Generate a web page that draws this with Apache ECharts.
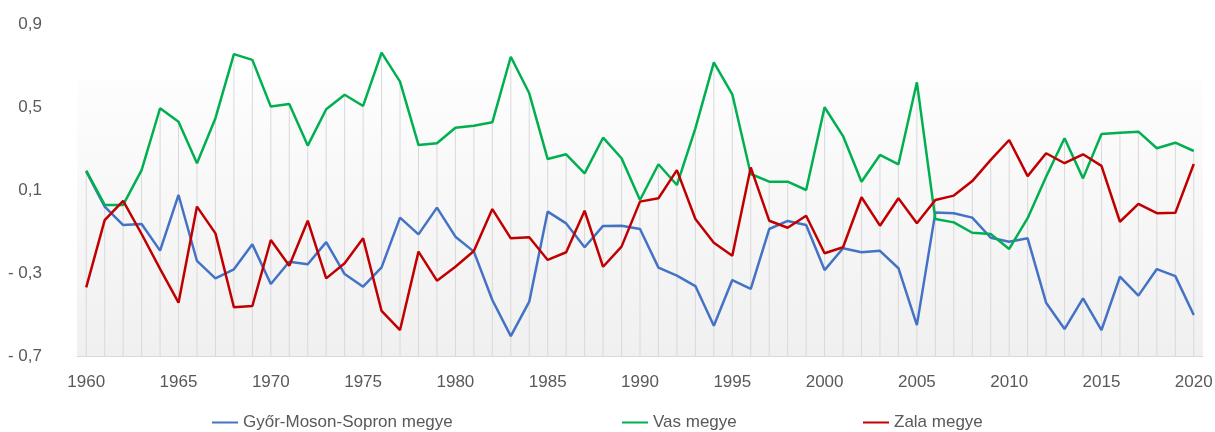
<!DOCTYPE html>
<html>
<head>
<meta charset="utf-8">
<script src="https://cdn.jsdelivr.net/npm/echarts@6/dist/echarts.min.js"></script>
<style>
html,body{margin:0;padding:0;background:#fff;}
#chart{width:1215px;height:432px;}
</style>
</head>
<body>
<div id="chart"></div>
<script>
const years = ['1960','1961','1962','1963','1964','1965','1966','1967','1968','1969',
  '1970','1971','1972','1973','1974','1975','1976','1977','1978','1979',
  '1980','1981','1982','1983','1984','1985','1986','1987','1988','1989',
  '1990','1991','1992','1993','1994','1995','1996','1997','1998','1999',
  '2000','2001','2002','2003','2004','2005','2006','2007','2008','2009',
  '2010','2011','2012','2013','2014','2015','2016','2017','2018','2019','2020'];

const gyorMosonSopron = [0.19,0.02,-0.069,-0.064,-0.192,0.076,-0.242,-0.326,-0.282,-0.162,
  -0.353,-0.246,-0.258,-0.151,-0.305,-0.366,-0.273,-0.033,-0.114,0.015,
  -0.125,-0.197,-0.43,-0.604,-0.438,-0.004,-0.061,-0.176,-0.073,-0.072,
  -0.088,-0.274,-0.313,-0.363,-0.554,-0.334,-0.377,-0.088,-0.049,-0.069,
  -0.286,-0.181,-0.2,-0.193,-0.277,-0.551,-0.009,-0.012,-0.033,-0.13,
  -0.149,-0.133,-0.443,-0.57,-0.422,-0.575,-0.318,-0.409,-0.281,-0.315,-0.502];

const vas = [0.193,0.028,0.028,0.196,0.494,0.429,0.229,0.446,0.755,0.727,
  0.502,0.514,0.314,0.489,0.559,0.505,0.762,0.622,0.317,0.325,
  0.40,0.41,0.426,0.742,0.566,0.249,0.272,0.18,0.352,0.253,
  0.052,0.224,0.124,0.397,0.715,0.561,0.177,0.14,0.14,0.10,
  0.499,0.36,0.14,0.269,0.224,0.619,-0.04,-0.056,-0.106,-0.112,
  -0.184,-0.036,0.164,0.349,0.156,0.37,0.376,0.381,0.301,0.328,0.288];

const zala = [-0.369,-0.045,0.048,-0.112,-0.28,-0.443,0.02,-0.109,-0.465,-0.459,
  -0.141,-0.265,-0.048,-0.326,-0.253,-0.133,-0.483,-0.575,-0.197,-0.337,
  -0.27,-0.194,0.008,-0.133,-0.128,-0.237,-0.2,0.0,-0.27,-0.173,
  0.044,0.06,0.196,-0.04,-0.154,-0.217,0.209,-0.048,-0.082,-0.024,
  -0.205,-0.176,0.065,-0.072,0.06,-0.06,0.052,0.073,0.143,0.245,
  0.341,0.167,0.277,0.229,0.272,0.216,-0.053,0.033,-0.012,-0.01,0.225];

const seriesNames = ['Győr-Moson-Sopron megye','Vas megye','Zala megye'];
const yTicks = [-0.7,-0.3,0.1,0.5,0.9];
const yMin = -0.7, yMax = 0.9;

const dropData = years.map((y, i) => [i, Math.max(gyorMosonSopron[i], vas[i], zala[i])]);

const fontFamily = '"Liberation Sans", Arial, sans-serif';
const textColor = '#595959';

function fmt(v) {
  const s = Math.abs(v).toFixed(1).replace('.', ',');
  return v < -1e-9 ? '- ' + s : s;
}

const chart = echarts.init(document.getElementById('chart'));
const legendBase = {
  top: 409,
  icon: 'rect',
  itemWidth: 26,
  itemHeight: 2,
  textStyle: { color: textColor, fontSize: 17, fontFamily: fontFamily }
};
chart.setOption({
  animation: false,
  backgroundColor: '#ffffff',
  grid: {
    left: 77, right: 12, top: 24, bottom: 76,
    outerBoundsMode: 'none',
    show: true,
    borderWidth: 0,
    backgroundColor: new echarts.graphic.LinearGradient(0, 0, 0, 1, [
      { offset: 0, color: '#ffffff' },
      { offset: 0.168, color: '#ffffff' },
      { offset: 0.17, color: '#fdfdfd' },
      { offset: 1, color: '#f0f0f0' }
    ])
  },
  legend: [
    Object.assign({}, legendBase, { left: 207, data: [seriesNames[0]] }),
    Object.assign({}, legendBase, { left: 617, data: [seriesNames[1]] }),
    Object.assign({}, legendBase, { left: 858, data: [seriesNames[2]] })
  ],
  xAxis: {
    type: 'category',
    data: years,
    boundaryGap: true,
    axisLine: { show: true, onZero: false, lineStyle: { color: '#d9d9d9', width: 1 } },
    axisTick: { show: false },
    splitLine: { show: false },
    axisLabel: {
      interval: 4,
      color: textColor,
      fontSize: 17,
      fontFamily: fontFamily,
      margin: 18
    }
  },
  yAxis: {
    type: 'value',
    min: yMin,
    max: yMax,
    axisLine: { show: false },
    axisTick: { show: false },
    splitLine: { show: false },
    axisLabel: {
      customValues: yTicks,
      formatter: fmt,
      color: textColor,
      fontSize: 17,
      fontFamily: fontFamily,
      margin: 35
    }
  },
  series: [
    {
      type: 'custom',
      name: 'drop',
      silent: true,
      z: 1,
      data: dropData,
      renderItem: function (params, api) {
        const p = api.coord([api.value(0), api.value(1)]);
        const b = api.coord([api.value(0), yMin]);
        return {
          type: 'line',
          shape: { x1: p[0], y1: p[1], x2: b[0], y2: b[1] },
          style: { stroke: '#d9d9d9', lineWidth: 1 }
        };
      }
    },
    {
      name: seriesNames[0], type: 'line', data: gyorMosonSopron, showSymbol: false, symbol: 'none', z: 3,
      lineStyle: { color: '#4472C4', width: 2.5 }, itemStyle: { color: '#4472C4' }
    },
    {
      name: seriesNames[1], type: 'line', data: vas, showSymbol: false, symbol: 'none', z: 3,
      lineStyle: { color: '#00B050', width: 2.5 }, itemStyle: { color: '#00B050' }
    },
    {
      name: seriesNames[2], type: 'line', data: zala, showSymbol: false, symbol: 'none', z: 3,
      lineStyle: { color: '#C00000', width: 2.5 }, itemStyle: { color: '#C00000' }
    }
  ]
});
</script>
</body>
</html>
